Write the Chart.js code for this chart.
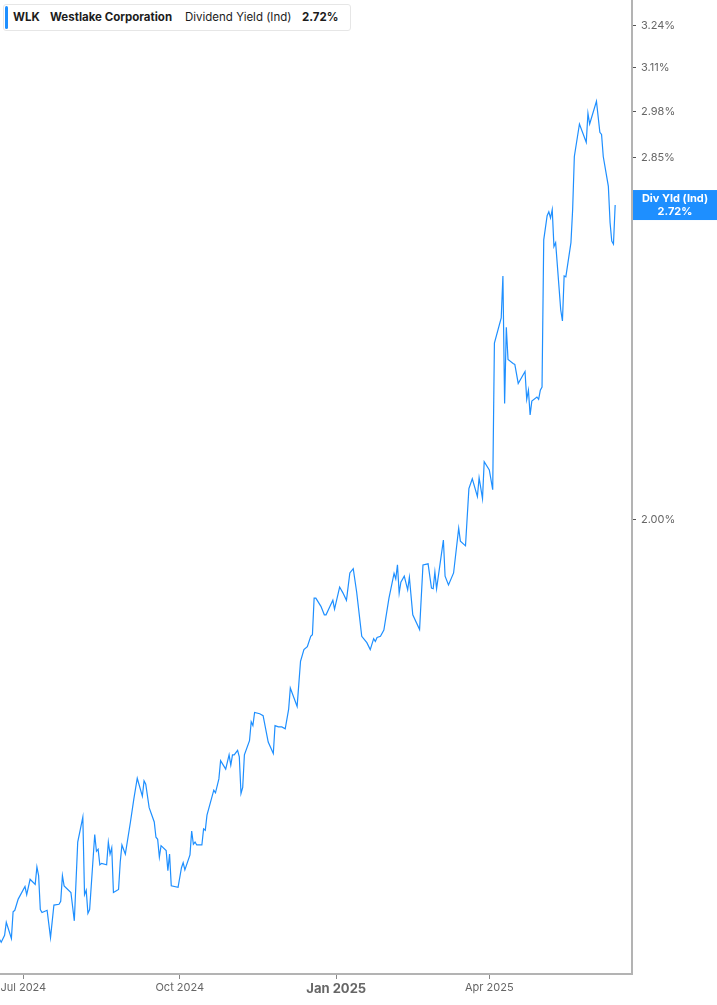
<!DOCTYPE html>
<html>
<head>
<meta charset="utf-8">
<script src="https://cdn.jsdelivr.net/npm/chart.js@4.4.1/dist/chart.umd.min.js"></script>
<style>
  html, body { margin: 0; padding: 0; background: #fff; }
  #wrap { position: relative; width: 717px; height: 1005px; }
  #legend {
    position: absolute; left: 3px; top: 4px; width: 346px; height: 25px;
    border: 1px solid #e6e6e6; border-radius: 3px; background: #fff;
    font-family: Inter, "Noto Sans", sans-serif; font-size: 11.5px; color: #1c1c1c;
  }
  #legend .bar { position: absolute; left: 1px; top: 1px; width: 3px; height: 23px; background: #1e8fff; border-radius: 2px; }
  #legend span { position: absolute; top: 5px; white-space: nowrap; }
  #legend .b { font-weight: 700; }
</style>
</head>
<body>
<div id="wrap">
  <canvas id="myChart" width="717" height="1005"></canvas>
  <div id="legend">
    <div class="bar"></div>
    <span class="b" style="left:9px">WLK</span>
    <span class="b" style="left:46px">Westlake Corporation</span>
    <span style="left:181px">Dividend Yield (Ind)</span>
    <span class="b" style="left:298px">2.72%</span>
  </div>
</div>
<script>
// daily indicated dividend yield, %
const dates = [
  '2024-06-17','2024-06-18','2024-06-20','2024-06-21','2024-06-24','2024-06-25','2024-06-26','2024-06-28',
  '2024-07-02','2024-07-03','2024-07-05','2024-07-08','2024-07-09','2024-07-10','2024-07-11','2024-07-12','2024-07-15','2024-07-17','2024-07-19','2024-07-22','2024-07-23','2024-07-24','2024-07-25','2024-07-29','2024-07-31',
  '2024-08-02','2024-08-05','2024-08-06','2024-08-07','2024-08-08','2024-08-09','2024-08-12','2024-08-13','2024-08-14','2024-08-15','2024-08-16','2024-08-19','2024-08-20','2024-08-21','2024-08-22','2024-08-23','2024-08-26','2024-08-27','2024-08-28','2024-08-30',
  '2024-09-02','2024-09-04','2024-09-06','2024-09-09','2024-09-10','2024-09-11','2024-09-13','2024-09-16','2024-09-17','2024-09-18','2024-09-19','2024-09-20','2024-09-23','2024-09-24','2024-09-25','2024-09-26','2024-09-30',
  '2024-10-02','2024-10-03','2024-10-04','2024-10-07','2024-10-08','2024-10-09','2024-10-10','2024-10-11','2024-10-14','2024-10-15','2024-10-16','2024-10-17','2024-10-21','2024-10-22','2024-10-24','2024-10-25','2024-10-28','2024-10-30','2024-10-31',
  '2024-11-01','2024-11-02','2024-11-04','2024-11-05','2024-11-06','2024-11-07','2024-11-08','2024-11-11','2024-11-12','2024-11-13','2024-11-14','2024-11-17','2024-11-19','2024-11-22','2024-11-25','2024-11-26','2024-11-28','2024-11-30',
  '2024-12-02','2024-12-04','2024-12-05','2024-12-09','2024-12-11','2024-12-13','2024-12-15','2024-12-17','2024-12-18','2024-12-19','2024-12-20','2024-12-23','2024-12-25','2024-12-26','2024-12-28','2024-12-30','2024-12-31',
  '2025-01-03','2025-01-05','2025-01-07','2025-01-09','2025-01-11','2025-01-13','2025-01-16','2025-01-19','2025-01-21','2025-01-23','2025-01-24','2025-01-25','2025-01-27','2025-01-29',
  '2025-02-01','2025-02-04','2025-02-05','2025-02-06','2025-02-07','2025-02-08','2025-02-10','2025-02-12','2025-02-13','2025-02-15','2025-02-19','2025-02-21','2025-02-24','2025-02-26','2025-02-27','2025-02-28',
  '2025-03-01','2025-03-05','2025-03-06','2025-03-08','2025-03-11','2025-03-14','2025-03-15','2025-03-18','2025-03-20','2025-03-22','2025-03-25','2025-03-26','2025-03-28','2025-03-29',
  '2025-04-01','2025-04-03','2025-04-04','2025-04-08','2025-04-09','2025-04-10','2025-04-11','2025-04-12','2025-04-15','2025-04-16','2025-04-18','2025-04-22','2025-04-23','2025-04-24','2025-04-25','2025-04-26','2025-04-29','2025-04-30',
  '2025-05-01','2025-05-02','2025-05-03','2025-05-05','2025-05-06','2025-05-07','2025-05-08','2025-05-09','2025-05-10','2025-05-13','2025-05-14','2025-05-15','2025-05-16','2025-05-19','2025-05-20','2025-05-21','2025-05-24','2025-05-28','2025-05-29','2025-05-30',
  '2025-06-03','2025-06-05','2025-06-06','2025-06-07','2025-06-10','2025-06-11','2025-06-12','2025-06-13','2025-06-14'
];
const yields = [
  1.328,1.324,1.333,1.350,1.329,1.364,1.366,1.381,
  1.398,1.387,1.408,1.401,1.425,1.413,1.367,1.363,1.366,1.330,1.373,1.374,1.378,1.413,1.399,1.390,1.352,
  1.460,1.496,1.387,1.393,1.362,1.367,1.471,1.447,1.450,1.428,1.430,1.428,1.460,1.443,1.452,1.390,1.394,1.432,1.456,1.443,
  1.489,1.523,1.554,1.527,1.550,1.545,1.510,1.489,1.467,1.464,1.439,1.455,1.448,1.420,1.443,1.399,1.397,
  1.424,1.431,1.421,1.442,1.476,1.457,1.460,1.456,1.456,1.479,1.477,1.499,1.536,1.532,1.553,1.581,1.568,1.590,1.574,
  1.590,1.590,1.597,1.587,1.531,1.540,1.590,1.612,1.642,1.636,1.657,1.655,1.652,1.610,1.592,1.636,1.634,1.634,
  1.631,1.662,1.697,1.667,1.742,1.762,1.767,1.785,1.788,1.853,1.853,1.838,1.823,1.823,1.836,1.849,1.833,
  1.873,1.862,1.849,1.899,1.907,1.864,1.785,1.774,1.762,1.781,1.776,1.783,1.785,1.796,
  1.853,1.898,1.888,1.914,1.862,1.882,1.893,1.868,1.891,1.823,1.797,1.914,1.916,1.871,1.870,1.901,
  1.870,1.961,1.893,1.877,1.899,1.984,1.959,1.950,2.062,2.082,2.046,2.084,2.042,2.117,
  2.100,2.060,2.377,2.436,2.538,2.241,2.414,2.339,2.330,2.328,2.285,2.312,2.250,2.270,2.216,2.246,2.255,2.250,
  2.270,2.277,2.629,2.692,2.702,2.686,2.708,2.612,2.622,2.455,2.429,2.538,2.536,2.622,2.708,2.852,2.944,2.892,2.975,2.944,
  3.010,2.920,2.914,2.852,2.770,2.674,2.626,2.618,2.720
];
const tickDates = ['2024-07-01', '2024-10-01', '2025-01-01', '2025-04-01'];
const tickLabels = ['Jul 2024', 'Oct 2024', 'Jan 2025', 'Apr 2025'];
const yTicks = [2.00, 2.72, 2.85, 2.98, 3.11, 3.24];
const lastValue = 2.72;

// days since 1 Jun 2024
const base = Date.UTC(2024, 5, 1);
function dayNum(s) {
    const p = s.split('-');
    return (Date.UTC(+p[0], +p[1] - 1, +p[2]) - base) / 864e5;
}
const tickDays = tickDates.map(dayNum);
const points = dates.map((d, i) => ({ x: dayNum(d), y: yields[i] }));

const BLUE = '#1e8fff';
const FONT = 'Inter, "Noto Sans", sans-serif';

// blue box with the last value on the right axis
const lastLabel = {
    id: 'lastLabel',
    afterDraw(chart) {
        const c = chart.ctx;
        const y = chart.scales.y.getPixelForValue(lastValue);
        const x0 = chart.chartArea.right + 1;
        c.save();
        c.fillStyle = BLUE;
        c.fillRect(x0, y - 15, chart.width - x0, 30);
        c.fillStyle = '#fff';
        c.textAlign = 'center';
        c.textBaseline = 'middle';
        c.font = '700 11px ' + FONT;
        const cx = (x0 + chart.width) / 2;
        c.fillText('Div Yld (Ind)', cx, y - 6);
        c.fillText(lastValue.toFixed(2) + '%', cx, y + 7);
        c.restore();
    }
};

// no extra room for edge labels: plot runs to the canvas top
function noPad(s) {
    s.paddingTop = 0;
    s.paddingBottom = 0;
    s.paddingLeft = 0;
    s.paddingRight = 0;
}

var ctx = document.getElementById('myChart').getContext('2d');
var myChart = new Chart(ctx, {
    type: 'line',
    data: {
        datasets: [{
            data: points,
            borderColor: BLUE,
            borderWidth: 1.2,
            pointRadius: 0,
            tension: 0,
            fill: false
        }]
    },
    options: {
        responsive: false,
        animation: false,
        layout: { padding: 0 },
        plugins: { legend: { display: false }, tooltip: { enabled: false } },
        scales: {
            x: {
                type: 'linear',
                min: 16.3,
                max: 387.9,
                afterFit: s => { s.height = 31; noPad(s); },
                afterBuildTicks: s => { s.ticks = tickDays.map(v => ({ value: v })); },
                grid: { drawOnChartArea: false, tickLength: 5, color: '#888', tickWidth: 1 },
                border: { color: '#b3b3b3', width: 2 },
                ticks: {
                    maxRotation: 0,
                    autoSkip: false,
                    padding: 2,
                    color: '#666',
                    font: c => (c.tick && c.tick.value === tickDays[2])
                        ? { family: FONT, size: 13, weight: '700' }
                        : { family: FONT, size: 11 },
                    callback: v => tickLabels[tickDays.indexOf(v)]
                }
            },
            y: {
                type: 'logarithmic',
                position: 'right',
                min: 1.2836,
                max: 3.323,
                afterFit: s => { s.width = 85; noPad(s); },
                afterBuildTicks: s => { s.ticks = yTicks.map(v => ({ value: v })); },
                grid: { drawOnChartArea: false, tickLength: 4, color: '#555', tickWidth: 1 },
                border: { color: '#b3b3b3', width: 2 },
                ticks: {
                    padding: 5,
                    color: '#666',
                    font: { family: FONT, size: 11 },
                    callback: v => Number(v).toFixed(2) + '%'
                }
            }
        }
    },
    plugins: [lastLabel]
});
</script>
</body>
</html>
